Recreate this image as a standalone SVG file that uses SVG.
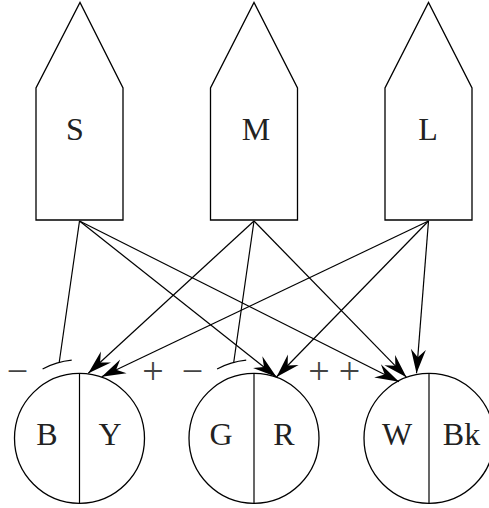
<svg xmlns="http://www.w3.org/2000/svg" width="489" height="508" viewBox="0 0 489 508">
  <style>
    .shape { fill: #fff; stroke: #000; stroke-width: 1.3; stroke-linejoin: miter; }
    .div { stroke: #000; stroke-width: 1.2; fill: none; }
    .lbl { font-family: "Liberation Serif", "Times New Roman", serif; font-size: 32px; fill: #222; text-anchor: middle; }
    .sign { font-family: "Liberation Serif", "Times New Roman", serif; font-size: 38px; fill: #444; }
    .edge { stroke: #000; stroke-width: 1.2; fill: none; }
    .exc { marker-end: url(#head); }
  </style>
  <defs>
    <marker id="head" markerUnits="userSpaceOnUse" markerWidth="28" markerHeight="18" viewBox="-25 -9 28 18" refX="0" refY="0" orient="auto">
      <path d="M0,0 L-24,-7.5 L-16,0 L-24,7.5 Z" fill="#000"/>
    </marker>
  </defs>

  <!-- cone-type input cells -->
  <g id="cone-S">
    <path class="shape" d="M36,220 L36,88 L80,2.5 L123,88 L123,220 Z"/>
    <text class="lbl" x="75" y="140">S</text>
  </g>
  <g id="cone-M">
    <path class="shape" d="M210.5,220 L210.5,88 L254,2.5 L297.5,88 L297.5,220 Z"/>
    <text class="lbl" x="256" y="140">M</text>
  </g>
  <g id="cone-L">
    <path class="shape" d="M385,220 L385,88 L428.5,2.5 L472,88 L472,220 Z"/>
    <text class="lbl" x="428" y="140">L</text>
  </g>

  <!-- opponent channels -->
  <g id="chan-BY">
    <circle class="shape" cx="79.5" cy="438.3" r="65"/>
    <line class="div" x1="79.5" y1="373.3" x2="79.5" y2="503.3"/>
    <text class="lbl" x="47" y="445">B</text>
    <text class="lbl" x="110" y="445">Y</text>
  </g>
  <g id="chan-GR">
    <circle class="shape" cx="254" cy="438.3" r="65"/>
    <line class="div" x1="254" y1="373.3" x2="254" y2="503.3"/>
    <text class="lbl" x="221" y="445">G</text>
    <text class="lbl" x="284" y="445">R</text>
  </g>
  <g id="chan-WBk">
    <circle class="shape" cx="429" cy="438.3" r="65"/>
    <line class="div" x1="429" y1="373.3" x2="429" y2="503.3"/>
    <text class="lbl" x="397" y="445">W</text>
    <text class="lbl" x="461.5" y="445">Bk</text>
  </g>

  <!-- connections -->
  <g id="connectors">
    <!-- inhibitory (bar ends) -->
    <line class="edge" x1="79.5" y1="221" x2="59.2" y2="362.5"/>
    <path class="edge" d="M42.6,369 A78.5,78.5 0 0 1 71.7,360.2"/>
    <line class="edge" x1="254" y1="221" x2="233.7" y2="362.5"/>
    <path class="edge" d="M217.1,369 A78.5,78.5 0 0 1 246.2,360.2"/>
    <!-- excitatory (arrow ends) -->
    <line class="edge exc" x1="254" y1="221" x2="88.3" y2="373.3"/>
    <line class="edge exc" x1="428.5" y1="221" x2="101.7" y2="376.7"/>
    <line class="edge exc" x1="79.5" y1="221" x2="276.5" y2="377"/>
    <line class="edge exc" x1="428.5" y1="221" x2="276.5" y2="377"/>
    <line class="edge exc" x1="79.5" y1="221" x2="399" y2="381.7"/>
    <line class="edge exc" x1="254" y1="221" x2="406.5" y2="377.3"/>
    <line class="edge exc" x1="428.5" y1="221" x2="416.5" y2="373.3"/>
  </g>

  <!-- signs -->
  <g id="signs">
    <text class="sign" x="17.5" y="384" text-anchor="middle">−</text>
    <text class="sign" x="153" y="384" text-anchor="middle">+</text>
    <text class="sign" x="192.5" y="384" text-anchor="middle">−</text>
    <text class="sign" x="308.3" y="384" letter-spacing="9">++</text>
  </g>
</svg>
